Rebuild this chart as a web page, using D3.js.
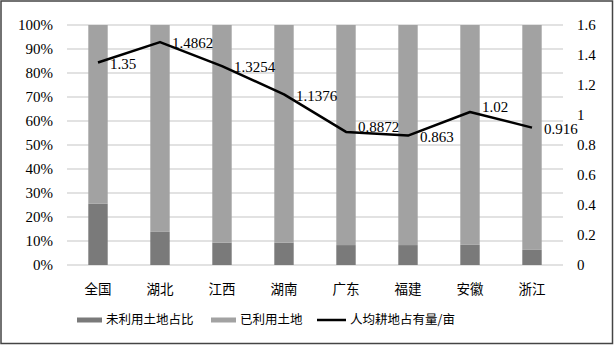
<!DOCTYPE html>
<html>
<head>
<meta charset="utf-8">
<script src="https://cdn.jsdelivr.net/npm/d3@7"></script>
<style>
  html, body { margin: 0; padding: 0; background: #fff; }
  #chart { width: 614px; height: 345px; }
  svg text { font-family: "Liberation Serif", "Noto Sans CJK SC", serif; fill: #000; }
  svg text.cjk { font-family: "Noto Sans CJK SC", sans-serif; }
</style>
</head>
<body>
<div id="chart"></div>
<script>
// data
const regions = ["全国", "湖北", "江西", "湖南", "广东", "福建", "安徽", "浙江"];
const unusedShare = [25.5, 13.8, 9.3, 9.3, 8.3, 8.3, 8.4, 6.3];   // 未利用土地占比 (%)
const usedShare = unusedShare.map(v => 100 - v);                // 已利用土地 (%)
const perCapita = [1.35, 1.4862, 1.3254, 1.1376, 0.8872, 0.863, 1.02, 0.916]; // 人均耕地占有量/亩
const leftTicks = [0, 10, 20, 30, 40, 50, 60, 70, 80, 90, 100];
const rightTicks = [0, 0.2, 0.4, 0.6, 0.8, 1, 1.2, 1.4, 1.6];

// a couple of data labels were nudged up in the original
const labelNudge = { "广东": -6, "安徽": -6 };

const width = 614, height = 345;
const margin = { top: 25, right: 51, bottom: 80, left: 67 };
const innerWidth = width - margin.left - margin.right;
const innerHeight = height - margin.top - margin.bottom;

const darkGray = "#7a7a7a";
const lightGray = "#a2a2a2";

const svg = d3.select("#chart").append("svg")
    .attr("width", width)
    .attr("height", height);

// outer frame
svg.append("rect")
    .attr("x", 1).attr("y", 1)
    .attr("width", width - 2.5).attr("height", height - 2.5)
    .attr("fill", "none")
    .attr("stroke", "#444")
    .attr("stroke-width", 1.5);

const chart = svg.append("g")
    .attr("transform", `translate(${margin.left}, ${margin.top})`);

const x = d3.scaleBand().domain(regions).range([0, innerWidth])
    .paddingInner(0.687).paddingOuter(0.3435);
const yPct = d3.scaleLinear().domain([0, 100]).range([innerHeight, 0]);
const yVal = d3.scaleLinear().domain([0, 1.6]).range([innerHeight, 0]);

// gridlines
chart.append("g")
    .selectAll("line")
    .data(leftTicks)
    .enter().append("line")
    .attr("x1", 0).attr("x2", innerWidth)
    .attr("y1", d => yPct(d)).attr("y2", d => yPct(d))
    .attr("stroke", "#d9d9d9")
    .attr("stroke-width", 1.5);

// left axis
const leftAxis = chart.append("g")
    .call(d3.axisLeft(yPct).tickValues(leftTicks).tickFormat(d => d + "%").tickSize(0).tickPadding(14));
leftAxis.attr("font-family", null);
leftAxis.select(".domain").remove();
leftAxis.selectAll("text").attr("font-size", "15px");

// right axis
const rightAxis = chart.append("g")
    .attr("transform", `translate(${innerWidth}, 0)`)
    .call(d3.axisRight(yVal).tickValues(rightTicks).tickFormat(d3.format("~g")).tickSize(0).tickPadding(14));
rightAxis.attr("font-family", null);
rightAxis.select(".domain").remove();
rightAxis.selectAll("text").attr("font-size", "15px");

// bottom axis
const bottomAxis = chart.append("g")
    .attr("transform", `translate(0, ${innerHeight})`)
    .call(d3.axisBottom(x).tickSize(0).tickPadding(19));
bottomAxis.attr("font-family", null);
bottomAxis.select(".domain").remove();
bottomAxis.selectAll("text").attr("class", "cjk").attr("font-size", "13.5px");

// stacked bars
const rows = regions.map((r, i) => ({ region: r, unused: unusedShare[i], used: usedShare[i] }));
const stack = d3.stack().keys(["unused", "used"])(rows);
const colors = { unused: darkGray, used: lightGray };

chart.selectAll(".layer")
    .data(stack)
    .enter().append("g")
    .attr("class", "layer")
    .attr("fill", d => colors[d.key])
    .selectAll("rect")
    .data(d => d)
    .enter().append("rect")
    .attr("x", d => x(d.data.region))
    .attr("y", d => yPct(d[1]))
    .attr("width", x.bandwidth())
    .attr("height", d => yPct(d[0]) - yPct(d[1]));

// line
const pts = regions.map((r, i) => ({ region: r, value: perCapita[i] }));
const line = d3.line()
    .x(d => x(d.region) + x.bandwidth() / 2)
    .y(d => yVal(d.value));

chart.append("path")
    .datum(pts)
    .attr("d", line)
    .attr("fill", "none")
    .attr("stroke", "#000")
    .attr("stroke-width", 2.5)
    .attr("stroke-linejoin", "round");

chart.selectAll(".val-label")
    .data(pts)
    .enter().append("text")
    .attr("class", "val-label")
    .attr("x", d => x(d.region) + x.bandwidth() / 2 + 12)
    .attr("y", d => yVal(d.value) + 1 + (labelNudge[d.region] || 0))
    .attr("dy", "0.35em")
    .attr("font-size", "15px")
    .text(d => d.value);

// legend
const legendData = [
    { label: "未利用土地占比", type: "rect", color: darkGray, x: 77, w: 25 },
    { label: "已利用土地", type: "rect", color: lightGray, x: 211, w: 25 },
    { label: "人均耕地占有量/亩", type: "line", color: "#000", x: 317, w: 29 }
];
const legendY = 320;
const legend = svg.append("g");
legend.selectAll("g")
    .data(legendData)
    .enter().append("g")
    .each(function (d) {
        const g = d3.select(this);
        if (d.type === "rect") {
            g.append("rect").attr("x", d.x).attr("y", legendY - 2.5).attr("width", d.w).attr("height", 5).attr("fill", d.color);
        } else {
            g.append("line").attr("x1", d.x).attr("x2", d.x + d.w)
                .attr("y1", legendY).attr("y2", legendY)
                .attr("stroke", d.color).attr("stroke-width", 2.5);
        }
        g.append("text")
            .attr("class", "cjk")
            .attr("x", d.x + d.w + 4)
            .attr("y", legendY)
            .attr("dy", "0.35em")
            .attr("font-size", "12.5px")
            .text(d.label);
    });
</script>
</body>
</html>
